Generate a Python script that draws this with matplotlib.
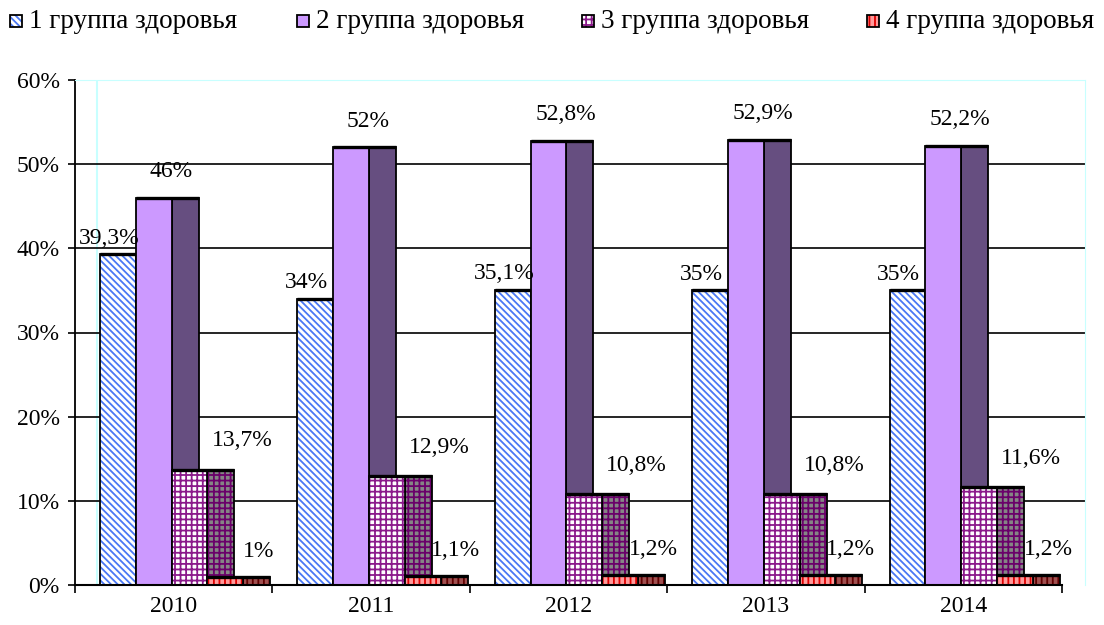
import matplotlib.pyplot as plt
from matplotlib.patches import Rectangle

plt.rcParams['font.family'] = ['Liberation Serif', 'DejaVu Serif']
plt.rcParams['hatch.linewidth'] = 1.3

years = ['2010', '2011', '2012', '2013', '2014']
groups = ['1 группа здоровья', '2 группа здоровья', '3 группа здоровья', '4 группа здоровья']
g1 = [39.3, 34.0, 35.1, 35.0, 35.0]
g2 = [46.0, 52.0, 52.8, 52.9, 52.2]
g3 = [13.7, 12.9, 10.8, 10.8, 11.6]
g4 = [1.0, 1.1, 1.2, 1.2, 1.2]
labels = [
    ['39,3%', '34%', '35,1%', '35%', '35%'],
    ['46%', '52%', '52,8%', '52,9%', '52,2%'],
    ['13,7%', '12,9%', '10,8%', '10,8%', '11,6%'],
    ['1%', '1,1%', '1,2%', '1,2%', '1,2%'],
]
series = [g1, g2, g3, g4]

# style: (front face, front hatch colour, side face, side hatch colour, hatch)
styles = [
    ('white', '#4a78f5', 'white', '#4a78f5', '\\' * 5),
    ('#cc99ff', None, '#664e80', None, None),
    ('white', '#8b1a8b', '#858585', '#6a006a', '+++'),
    ('#ff9a9a', '#e00000', '#a05050', '#600000', '|||'),
]

W = 1104 / 100
H = 625 / 100
fig = plt.figure(figsize=(W, H), dpi=100)
ax = fig.add_axes([75 / 1104, 1 - 585 / 625, 1010 / 1104, 505 / 625])

bw = 0.1813
side = 0.137
start = 0.1266


def draw_bar(x, w, h, face, hcol, hatch, lw=1.3):
    if hatch:
        ax.bar(x, h, w, align='edge', color=face, edgecolor=hcol, hatch=hatch, linewidth=0, zorder=3)
    else:
        ax.bar(x, h, w, align='edge', color=face, linewidth=0, zorder=3)
    ax.bar(x, h, w, align='edge', fill=False, edgecolor='black', linewidth=lw, zorder=3)
    ax.plot([x, x + w], [h, h], color='black', lw=2.4, zorder=3, solid_capstyle='butt')


for i in range(len(years)):
    for k, s in enumerate(series):
        face, hcol, sface, shcol, hatch = styles[k]
        x0 = i + start + k * bw
        if k > 0:
            draw_bar(x0 + bw, side, s[i], sface, shcol, hatch)
        draw_bar(x0, bw, s[i], face, hcol, hatch)

# value labels
lab_dx = [0.172, 0.485, 0.845, 0.93]
lab_dy = [16, 26, 29, 25]
for k, s in enumerate(series):
    for i in range(len(years)):
        ax.annotate(labels[k][i], xy=(i + lab_dx[k], s[i]), xytext=(0, lab_dy[k]),
                    textcoords='offset pixels', ha='center', va='center', fontsize=17, zorder=5)

ax.set_xlim(0, 1010 / 197.4)
ax.set_ylim(0, 60)
for sp in ax.spines.values():
    sp.set_color('#c8ffff')
ax.spines['left'].set_color('black')
ax.spines['left'].set_linewidth(1.3)
ax.spines['bottom'].set_visible(False)
ax.plot([0, 5], [0, 0], color='black', lw=1.5, zorder=4, clip_on=False)
ax.axvline(22 / 197.4, color='#c8ffff', lw=1.5, zorder=1)

ax.set_yticks(range(0, 61, 10))
ax.set_yticklabels([f'{v}%' for v in range(0, 61, 10)], fontsize=17)
for v in range(10, 60, 10):
    ax.axhline(v, color='black', lw=1.2, zorder=1)
ax.tick_params(axis='y', length=5, width=1.2, pad=6, direction='out')

ax.set_xticks(range(0, 6))
ax.set_xticklabels([''] * 6)
ax.set_xticks([i + 0.5 for i in range(5)], minor=True)
ax.set_xticklabels(years, minor=True, fontsize=17)
ax.tick_params(axis='x', which='major', length=6, width=1.2, direction='out')
ax.tick_params(axis='x', which='minor', length=0, pad=8)

# legend
leg_x = [10, 297, 582, 867]
for k in range(4):
    face, hcol, sface, shcol, hatch = styles[k]
    x = leg_x[k] / 1104
    y = 1 - 27 / 625
    if hatch:
        fig.add_artist(Rectangle((x, y), 12 / 1104, 12 / 625, transform=fig.transFigure,
                                 facecolor=face, edgecolor=hcol, hatch=hatch, linewidth=0))
    else:
        fig.add_artist(Rectangle((x, y), 12 / 1104, 12 / 625, transform=fig.transFigure,
                                 facecolor=face, linewidth=0))
    fig.add_artist(Rectangle((x, y), 12 / 1104, 12 / 625, transform=fig.transFigure,
                             fill=False, edgecolor='black', linewidth=1.3))
    fig.text((leg_x[k] + 19) / 1104, 1 - 21 / 625, groups[k], fontsize=19.5, va='center', ha='left')

fig.savefig('out.png', dpi=100)
